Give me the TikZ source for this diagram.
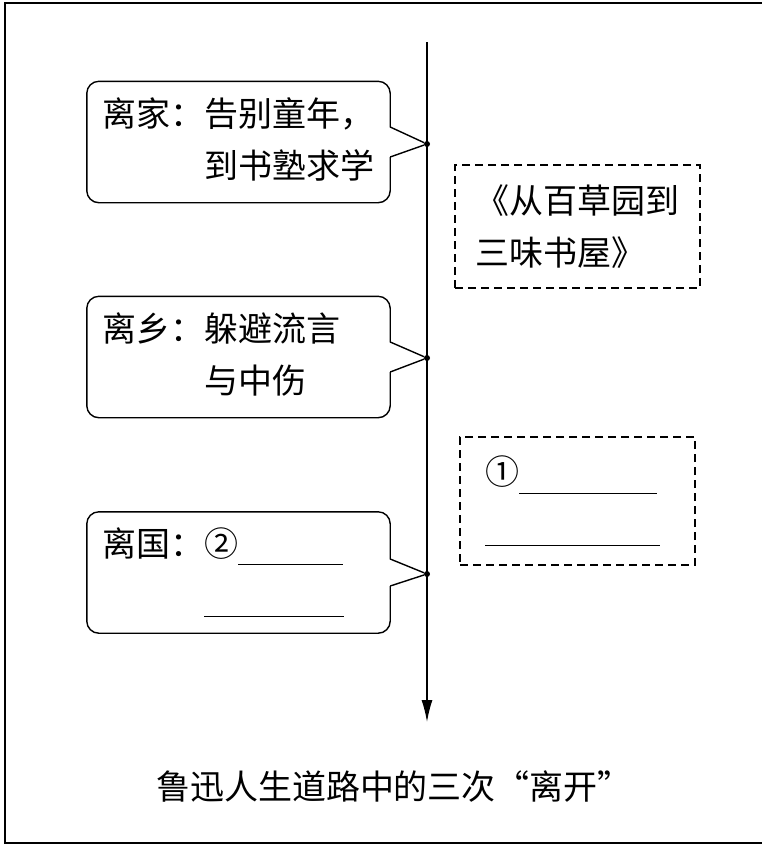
\documentclass[tikz,border=0pt]{standalone}
\usepackage{fontspec}
\setmainfont{Noto Sans CJK SC}
\usepackage{xcolor}
\usepackage{pgf,tikz}
\usetikzlibrary{shapes}
\usetikzlibrary{arrows.meta}
\tikzset{
  font={\fontsize{34pt}{52pt}\selectfont}}

\begin{document}
\begin{tikzpicture}[x=1pt, y=-1pt]

    \tikzset{timeline/.style = {line width=1.4pt, -{Latex[length=22pt, width=11pt]}}}
    \tikzset{bubble/.style = {minimum width=303pt, minimum height=121pt, inner xsep=15.5pt, text width=272pt, align=left}}
    \tikzset{outline/.style = {line width=1.4pt, line join=round}}
    \tikzset{work/.style = {draw, dash pattern=on 8pt off 5pt, line width=1.6pt, align=left}}
    \tikzset{stopdot/.style = {circle, fill=black, inner sep=0pt, minimum size=6pt}}

    \useasboundingbox (0,0) rectangle (762,847);
    % frame, open on the right
    \draw[line width=2pt] (762,3) -- (5,3) -- (5,843) -- (762,843);

    % vertices
    \coordinate (start) at (427,42);
    \coordinate (end) at (427,722);
    \node[stopdot] (d1) at (427,144) {};
    \node[stopdot] (d2) at (427,358) {};
    \node[stopdot] (d3) at (427,574) {};

    \node[bubble] (home) at (238.5,142)
        {\begin{tabular}{@{}l@{}l@{}}离家：&告别童年，\\&到书塾求学\end{tabular}};
    \node[bubble] (hometown) at (238.5,357)
        {\begin{tabular}{@{}l@{}l@{}}离乡：&躲避流言\\&与中伤\end{tabular}};
    \node[bubble] (country) at (238.5,572.5)
        {\begin{tabular}{@{}l@{}l@{}}离国：&②\rule[-8pt]{105pt}{1pt}\\&\rule[-8pt]{140pt}{1pt}\end{tabular}};

    \node[work, minimum width=245pt, minimum height=123pt, text width=204pt, inner xsep=20.5pt] (garden)
        at (577.5,226.5) {《从百草园到\\三味书屋》};
    \node[work, minimum width=235pt, minimum height=128pt, text width=185pt, inner xsep=25pt] (blank)
        at (577.5,501) {①\rule[-9pt]{138pt}{1pt}\\\rule[-9pt]{175pt}{1pt}};

    \node (caption) at (394,787) {鲁迅人生道路中的三次“离开”};

    %edges
    \draw[timeline] (start) -- (end);
    \draw[outline] ([yshift=-15pt]home.east) -- (d1) -- ([yshift=15pt]home.east)
        [rounded corners=12pt] -- (home.north east) -- (home.north west)
        -- (home.south west) -- (home.south east) -- ([yshift=-15pt]home.east);
    \draw[outline] ([yshift=-15pt]hometown.east) -- (d2) -- ([yshift=15pt]hometown.east)
        [rounded corners=12pt] -- (hometown.north east) -- (hometown.north west)
        -- (hometown.south west) -- (hometown.south east) -- ([yshift=-15pt]hometown.east);
    \draw[outline] ([yshift=-13.5pt]country.east) -- (d3) -- ([yshift=13.5pt]country.east)
        [rounded corners=12pt] -- (country.north east) -- (country.north west)
        -- (country.south west) -- (country.south east) -- ([yshift=-13.5pt]country.east);

\end{tikzpicture}
\end{document}
